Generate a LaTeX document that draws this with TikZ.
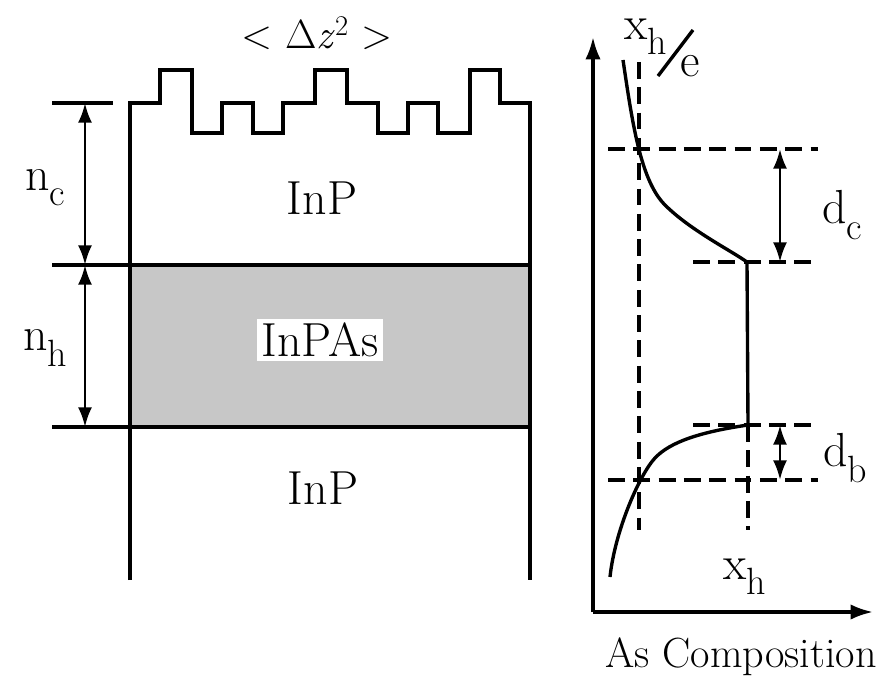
\documentclass[tikz,border=0pt]{standalone}
\usepackage{fontspec}
\usetikzlibrary{arrows.meta,positioning,calc}
\newcommand{\lsub}[1]{\raisebox{-0.32em}{\fontsize{27}{30}\selectfont #1}}

\begin{document}
\begin{tikzpicture}[
  x=0.025cm, y=-0.025cm,
  font=\fontsize{34}{40}\selectfont,
  ln/.style={line width=2.4pt, line join=miter},
  dsh/.style={line width=2.2pt, dash pattern=on 12pt off 6pt},
  dim/.style={line width=2pt, {Latex[length=14pt,width=10pt]}-{Latex[length=14pt,width=10pt]}},
  ax/.style={line width=2.4pt, -{Latex[length=16pt,width=11pt]}},
  lbl/.style={inner sep=1pt}
]
\useasboundingbox (0,0) rectangle (894,683);
% layer stack
\fill[black!22] (130,265) rectangle (530,427);
\draw[ln] (130,580) -- (130,103) -- (160,103) -- (160,70) -- (192,70) -- (192,133)
  -- (222,133) -- (222,103) -- (253,103) -- (253,133) -- (283,133) -- (283,103)
  -- (315,103) -- (315,70) -- (347,70) -- (347,103) -- (378,103) -- (378,133)
  -- (408,133) -- (408,103) -- (438,103) -- (438,133) -- (470,133) -- (470,70)
  -- (500,70) -- (500,103) -- (530,103) -- (530,580);
\coordinate (t0) at (85,103);
\coordinate (t1) at (85,265);
\coordinate (t2) at (85,427);
\draw[ln] (52,103) -- (113,103);
\draw[ln] (52,265) -- (530,265);
\draw[ln] (52,427) -- (530,427);
\draw[dim] (t0) -- (t1);
\draw[dim] (t1) -- (t2);
\node[lbl] (nc) at (45,188) {n\lsub{c}};
\node[lbl] (nh) at (45,348) {n\lsub{h}};
\node[lbl, font=\fontsize{29}{34}\selectfont] (rough) at (317,33) {< Δ\textit{z}\textsuperscript{2} >};
\node[lbl] (cap) at (322,198) {InP};
\node[fill=white, inner sep=3pt] (well) at (320,340) {InPAs};
\node[lbl] (sub) at (323,488) {InP};
% composition profile
\coordinate (o) at (593,612);
\draw[ax] (o) -- (593,37);
\draw[ax] (o) -- (873,612);
\node[lbl, font=\fontsize{30}{36}\selectfont] (axl) at (741,657) {As Composition};
\draw[dsh] (639,62) -- (639,530);
\draw[dsh] (608,149) -- (818,149);
\draw[dsh] (693,262) -- (818,262);
\draw[dsh] (693,425) -- (818,425);
\draw[dsh] (608,480) -- (818,480);
\draw[dsh] (748,425) -- (748,530);
\draw[ln] (623,60) .. controls (632,120) and (640,180) .. (665,205)
  .. controls (690,230) and (730,250) .. (747,262) -- (748,425)
  .. controls (700,432) and (670,442) .. (655,458)
  .. controls (640,474) and (615,530) .. (610,577);
\coordinate (c0) at (780,149);
\coordinate (c1) at (780,262);
\coordinate (b0) at (780,425);
\coordinate (b1) at (780,480);
\draw[dim] (c0) -- (c1);
\draw[dim] (b0) -- (b1);
\node[lbl] (dc) at (842,215) {d\lsub{c}};
\node[lbl] (db) at (845,458) {d\lsub{b}};
\node[lbl] (xh) at (745,577) {x\lsub{h}};
\node[lbl] (xtop) at (646,37) {x\lsub{h}};
\node[lbl] (e) at (690,66) {e};
\draw[line width=2.4pt] (658,76) -- (693,30);
\end{tikzpicture}
\end{document}
